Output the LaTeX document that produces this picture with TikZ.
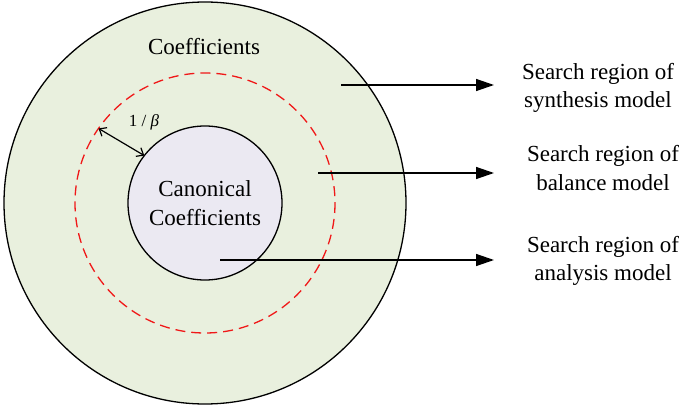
\documentclass[tikz,border=0pt]{standalone}
\usepackage{fontspec}
\setmainfont{Liberation Serif}
\usetikzlibrary{arrows.meta,calc}
\definecolor{outerfill}{HTML}{E9F0DE}
\definecolor{innerfill}{HTML}{EBE9F2}
\definecolor{dashred}{HTML}{F01818}
\tikzset{
  ring/.style={draw=black, line width=1.3pt},
  reddash/.style={draw=dashred, line width=1.3pt, dash pattern=on 10pt off 6pt},
  pointer/.style={draw=black, line width=1.4pt, -{Triangle[length=18pt,width=12pt]}},
  label/.style={font=\fontsize{23}{28.5}\selectfont, align=center, inner sep=0pt},
  dim/.style={draw=black, line width=1.2pt, {Straight Barb[length=6pt,width=10pt]}-{Straight Barb[length=6pt,width=10pt]}}
}
\begin{document}
\begin{tikzpicture}[x=1pt,y=-1pt]
\useasboundingbox (0,0) rectangle (685,406);
\coordinate (c) at (205,203);
\path[ring, fill=outerfill] (c) circle (201);
\path[reddash] (c) circle (130);
\path[ring, fill=innerfill] (c) circle (77);
\node[label] (coef) at (204,47) {Coefficients};
\node[label] (canon) at (205,203) {Canonical\\Coefficients};
\node[font=\fontsize{17}{19}\selectfont, inner sep=0pt] (beta) at (144,122) {1 / \textit{β}};
\coordinate (d1) at ($(c)+(215:130)$);
\coordinate (d2) at ($(c)+(218:77)$);
\draw[dim] (d1) -- (d2);
\coordinate (s1) at (341,85);
\coordinate (e1) at (494,85);
\coordinate (s2) at (318,173);
\coordinate (e2) at (494,173);
\coordinate (s3) at (220,260);
\coordinate (e3) at (494,260);
\draw[pointer] (s1) -- (e1);
\draw[pointer] (s2) -- (e2);
\draw[pointer] (s3) -- (e3);
\node[label] (t1) at (598,88) {Search region of\\synthesis model};
\node[label] (t2) at (603,168) {Search region of\\balance model};
\node[label] (t3) at (603,261) {Search region of\\analysis model};
\end{tikzpicture}
\end{document}
